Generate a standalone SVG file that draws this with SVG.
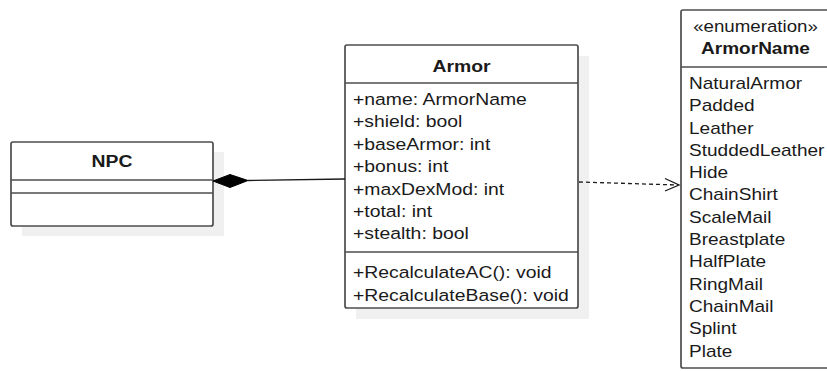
<svg xmlns="http://www.w3.org/2000/svg" width="827" height="371" viewBox="0 0 827 371">
<style>
.box{fill:#fff;stroke:#4d4d4d;stroke-width:1.7}
.shadow{fill:#f0f0f0;stroke:none}
.div{stroke:#4d4d4d;stroke-width:1.7}
text{font-family:"Liberation Sans",Arial,sans-serif;font-size:17px;fill:#1a1a1a}
.b{font-weight:bold}
.c{text-anchor:middle}
.conn{fill:none;stroke:#1a1a1a;stroke-width:1.3}
</style>
<rect width="827" height="371" fill="#fff"/>
<g id="NPC">
<rect class="shadow" x="22" y="152" width="202" height="84"/>
<rect class="box" x="11" y="142" width="202" height="84" rx="2"/>
<line class="div" x1="11" y1="180" x2="213" y2="180"/>
<line class="div" x1="11" y1="193" x2="213" y2="193"/>
<g transform="translate(112,167) scale(1.14,1)"><text class="b c" x="0" y="0">NPC</text></g>
</g>
<g id="Armor">
<rect class="shadow" x="356" y="56" width="233" height="263"/>
<rect class="box" x="345" y="45" width="233" height="263" rx="2"/>
<line class="div" x1="345" y1="83" x2="578" y2="83"/>
<line class="div" x1="345" y1="252" x2="578" y2="252"/>
<g transform="translate(461.5,72) scale(1.14,1)"><text class="b c" x="0" y="0">Armor</text></g>
<g transform="translate(353,0) scale(1.14,1)">
<text x="0" y="105">+name: ArmorName</text>
<text x="0" y="127.4">+shield: bool</text>
<text x="0" y="149.8">+baseArmor: int</text>
<text x="0" y="172.2">+bonus: int</text>
<text x="0" y="194.6">+maxDexMod: int</text>
<text x="0" y="217">+total: int</text>
<text x="0" y="239.4">+stealth: bool</text>
<text x="0" y="278.3">+RecalculateAC(): void</text>
<text x="0" y="300.7">+RecalculateBase(): void</text>
</g>
</g>
<g id="ArmorName">
<rect class="box" x="681" y="10" width="160" height="358" rx="2"/>
<line class="div" x1="681" y1="67" x2="841" y2="67"/>
<g transform="translate(755.5,32) scale(1.1,1)"><text class="c" x="0" y="0">«enumeration»</text></g>
<g transform="translate(755.5,54) scale(1.12,1)"><text class="b c" x="0" y="0">ArmorName</text></g>
<g transform="translate(689,0) scale(1.12,1)">
<text x="0" y="89">NaturalArmor</text>
<text x="0" y="111.3">Padded</text>
<text x="0" y="133.6">Leather</text>
<text x="0" y="155.9">StuddedLeather</text>
<text x="0" y="178.2">Hide</text>
<text x="0" y="200.5">ChainShirt</text>
<text x="0" y="222.8">ScaleMail</text>
<text x="0" y="245.1">Breastplate</text>
<text x="0" y="267.4">HalfPlate</text>
<text x="0" y="289.7">RingMail</text>
<text x="0" y="312">ChainMail</text>
<text x="0" y="334.3">Splint</text>
<text x="0" y="356.6">Plate</text>
</g>
</g>
<g id="connectors">
<path class="conn" d="M248,180.5 L345,179"/>
<polygon points="213,181 230,174.5 248,180.5 230,187.5" fill="#000" stroke="#000" stroke-width="1"/>
<path class="conn" d="M579,182 L678,185" stroke-dasharray="4,3"/>
<path class="conn" d="M665,178.5 L679,185 L665,191"/>
</g>
</svg>
